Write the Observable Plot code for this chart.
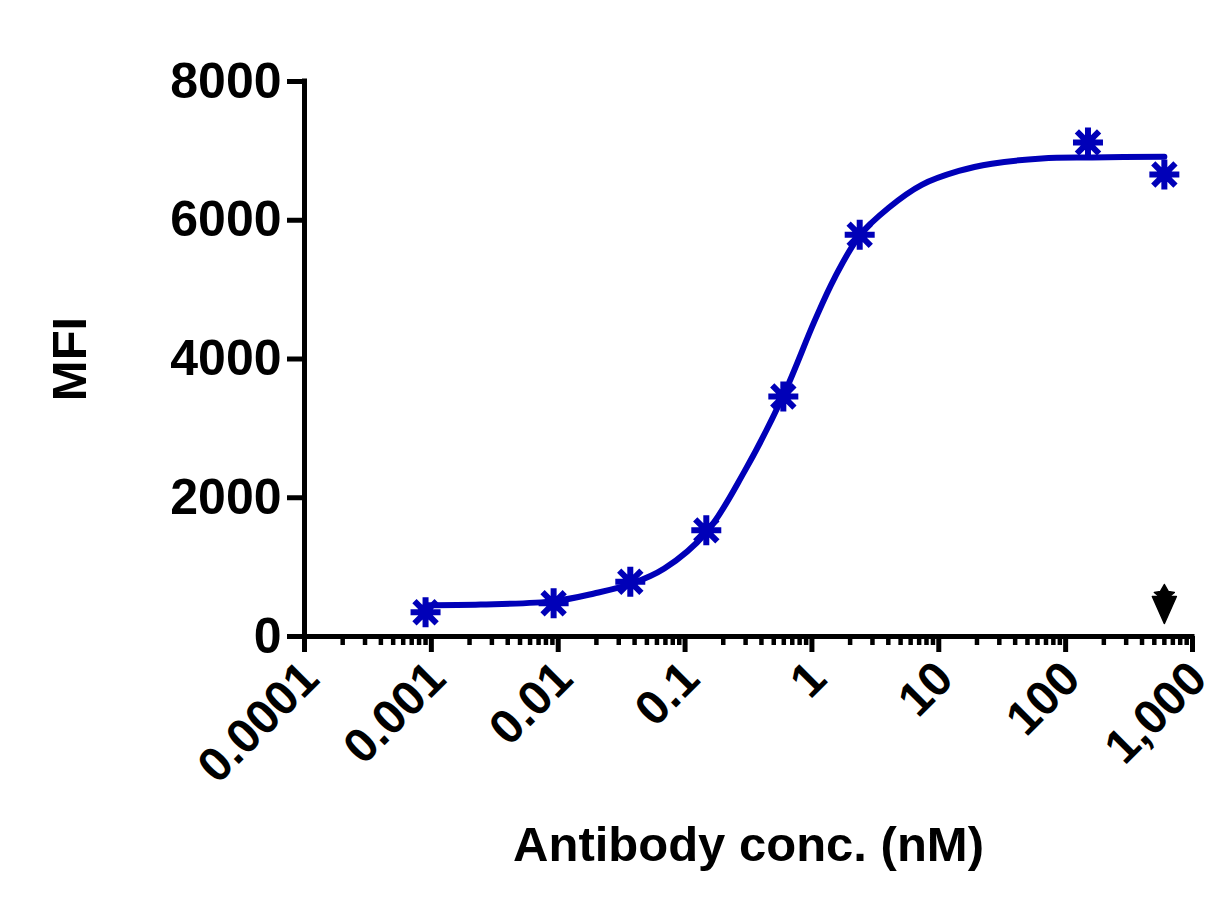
<!DOCTYPE html>
<html><head><meta charset="utf-8">
<script src="https://cdn.jsdelivr.net/npm/d3@7"></script>
<script src="https://cdn.jsdelivr.net/npm/@observablehq/plot@0.6"></script>
<style>
body{margin:0;background:#fff}
#chart svg{display:block}
</style>
</head><body><div id="chart"></div>
<script>
// Measured points (Antibody conc. in nM, MFI)
const conc = [0.0009, 0.0092, 0.037, 0.147, 0.595, 2.38, 150, 600];
const mfi  = [350, 480, 790, 1530, 3460, 5790, 7120, 6660];
// Error bar visible on the 150 nM point (lower end)
const errConc = [150];
const errLow  = [6900];
const errHigh = [7120];
// Fitted curve
const curveConc = [0.0009, 0.00245, 0.0093, 0.0192, 0.0376, 0.0686, 0.147, 0.294, 0.597, 1.05, 1.51, 2.38, 4.03, 7.34, 14.4, 26.2, 65, 162, 600];
const curveMFI  = [450, 460, 510, 620, 760, 980, 1500, 2380, 3480, 4550, 5170, 5780, 6180, 6510, 6710, 6815, 6890, 6905, 6915];
// Out-of-range marker
const arrowConc = [600];
const arrowMFI  = [0];
// Axes
const xMajorTicks = [0.0001, 0.001, 0.01, 0.1, 1, 10, 100, 1000];
const xTickLabels = ["0.0001", "0.001", "0.01", "0.1", "1", "10", "100", "1,000"];
const yTicks = [0, 2000, 4000, 6000, 8000];
const xTitle = "Antibody conc. (nM)";
const yTitle = "MFI";

const points = conc.map((c, i) => ({c, m: mfi[i]}));
const curve = curveConc.map((c, i) => ({c, m: curveMFI[i]}));
const errs = errConc.map((c, i) => ({c, lo: errLow[i], hi: errHigh[i]}));
const arrows = arrowConc.map((c, i) => ({c, m: arrowMFI[i]}));
const labelOf = new Map(xMajorTicks.map((t, i) => [t, xTickLabels[i]]));
const minorTicks = [];
for (let k = 0; k < xMajorTicks.length - 1; k++) for (let j = 2; j <= 9; j++) minorTicks.push(+(j * xMajorTicks[k]).toPrecision(3));

const BLUE = "#0000b8";
const FONT = "'Liberation Sans', Arial, Helvetica, sans-serif";

const asterisk = {
  draw(ctx, size) {
    const r = Math.sqrt(size / Math.PI);
    const d = r * 0.74;
    ctx.moveTo(-r, 0); ctx.lineTo(r, 0);
    ctx.moveTo(0, -r); ctx.lineTo(0, r);
    ctx.moveTo(-d, -d); ctx.lineTo(d, d);
    ctx.moveTo(-d, d); ctx.lineTo(d, -d);
  }
};
const downArrow = {
  draw(ctx) {
    // tip sits 13px above the anchor
    ctx.moveTo(0, -13); ctx.lineTo(-12, -40); ctx.lineTo(12, -40); ctx.closePath();
    // small star on top
    ctx.moveTo(0, -52); ctx.lineTo(4, -45); ctx.lineTo(10, -44); ctx.lineTo(5, -40);
    ctx.lineTo(-5, -40); ctx.lineTo(-10, -44); ctx.lineTo(-4, -45); ctx.closePath();
  }
};

const chart = Plot.plot({
  width: 1222,
  height: 909,
  marginLeft: 304,
  marginRight: 30,
  marginTop: 81,
  marginBottom: 273,
  style: {fontFamily: FONT, fontWeight: "bold", color: "#000", background: "#fff"},
  x: {type: "log", domain: [0.0001, 1000]},
  y: {domain: [0, 8000]},
  marks: [
    Plot.axisY({ticks: yTicks, tickSize: 17, tickPadding: 6, strokeWidth: 5, fontSize: 50, fontWeight: "bold", label: null, tickFormat: d => String(d)}),
    Plot.axisX({ticks: minorTicks, tickSize: 9, strokeWidth: 4.5, tickFormat: () => "", label: null}),
    Plot.axisX({ticks: xMajorTicks, tickSize: 16, strokeWidth: 5, tickFormat: () => "", label: null}),
    Plot.axisX({ticks: xMajorTicks, tickSize: 0, tickPadding: 34, tickRotate: -45, dx: 6, fontSize: 48, fontWeight: "bold", tickFormat: d => labelOf.get(d), label: null}),
    Plot.ruleX([0.0001], {strokeWidth: 5, strokeLinecap: "square"}),
    Plot.ruleY([0], {strokeWidth: 5, strokeLinecap: "square"}),
    Plot.ruleX(errs, {x: "c", y1: "lo", y2: "hi", stroke: BLUE, strokeWidth: 4.5}),
    Plot.line(curve, {x: "c", y: "m", stroke: BLUE, strokeWidth: 6, curve: "catmull-rom"}),
    Plot.dot(points, {x: "c", y: "m", symbol: asterisk, r: 15, stroke: BLUE, fill: "none", strokeWidth: 6}),
    Plot.dot(arrows, {x: "c", y: "m", symbol: downArrow, r: 10, fill: "#000", stroke: "#000", strokeWidth: 1.5, strokeLinejoin: "round"}),
    Plot.text([xTitle], {frameAnchor: "bottom", dy: 209, text: d => d, fontSize: 49, fontWeight: "bold", textAnchor: "middle", lineAnchor: "middle", fill: "#000"}),
    Plot.text([yTitle], {frameAnchor: "left", dx: -234, rotate: -90, text: d => d, fontSize: 49, fontWeight: "bold", textAnchor: "middle", lineAnchor: "middle", fill: "#000"})
  ]
});
document.getElementById("chart").appendChild(chart);
</script>
</body></html>
